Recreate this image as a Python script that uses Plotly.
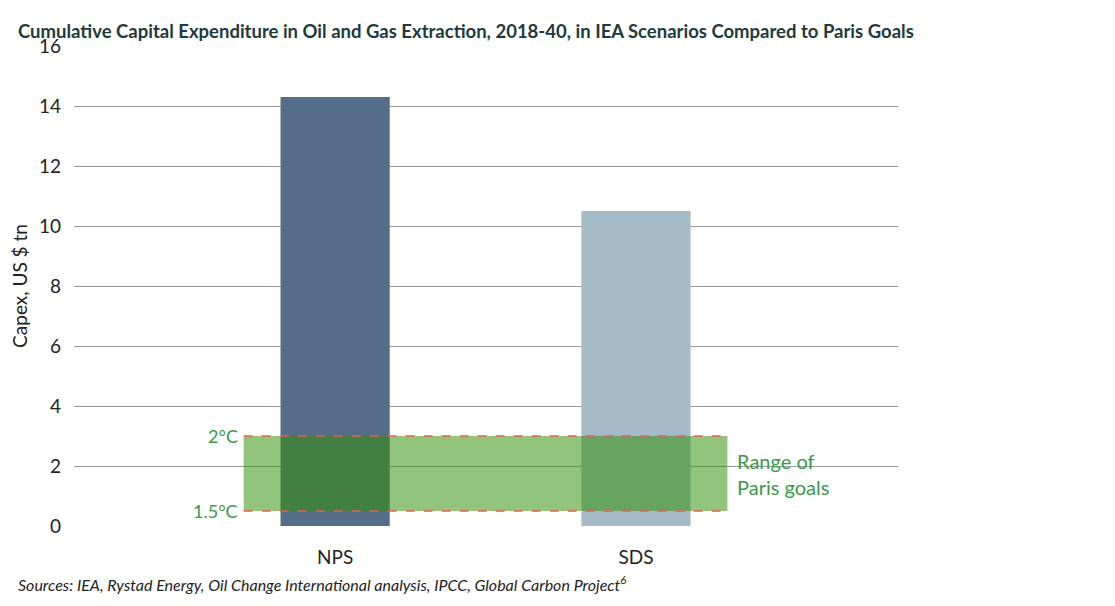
import plotly.graph_objects as go

scenarios = ["NPS", "SDS"]
capex = [14.3, 10.5]
bar_colors = ["#566d87", "#a5bbc8"]
paris_low = 0.5   # 1.5°C
paris_high = 3.0  # 2°C

fig = go.Figure()
fig.add_trace(go.Bar(x=[0, 1], y=capex, marker_color=bar_colors, width=0.363,
                     marker_line_width=0, showlegend=False))

# Paris goals band
fig.add_shape(type="rect", xref="x", yref="y", x0=-0.304, x1=1.304,
              y0=paris_low, y1=paris_high, fillcolor="rgba(50,143,8,0.53)",
              line_width=0, layer="above")
for yv in (paris_low, paris_high):
    fig.add_shape(type="line", xref="x", yref="y", x0=-0.304, x1=1.304, y0=yv, y1=yv,
                  line=dict(color="#e0635a", width=1.5, dash="dash"), layer="above")

green = "#3a9a4a"
fig.add_annotation(x=-0.304, y=paris_high, text="2°C", showarrow=False, xanchor="right",
                   xshift=-4, font=dict(size=18, color=green))
fig.add_annotation(x=-0.304, y=paris_low, text="1.5°C", showarrow=False, xanchor="right",
                   xshift=-4, font=dict(size=18, color=green))
fig.add_annotation(x=1.304, y=(paris_low + paris_high) / 2, text="Range of<br>Paris goals",
                   showarrow=False, xanchor="left", xshift=8, align="left",
                   font=dict(size=20, color=green))

fig.add_annotation(xref="paper", yref="paper", x=-0.07, y=1.0, yshift=28,
                   text="<b>Cumulative Capital Expenditure in Oil and Gas Extraction, 2018-40, in IEA Scenarios Compared to Paris Goals</b>",
                   showarrow=False, xanchor="left", font=dict(size=18.5, color="#1d3b3b"))
fig.add_annotation(xref="paper", yref="paper", x=-0.07, y=0, yshift=-70,
                   text="<i>Sources: IEA, Rystad Energy, Oil Change International analysis, IPCC, Global Carbon Project<sup>6</sup></i>",
                   showarrow=False, xanchor="left", font=dict(size=16, color="#222"))

fig.update_xaxes(range=[-0.868, 1.871], tickvals=[0, 1], ticktext=scenarios,
                 showgrid=False, zeroline=False, showline=False, ticks="outside",
                 ticklen=14, tickcolor="rgba(0,0,0,0)",
                 tickfont=dict(size=19, color="#222"))
fig.update_yaxes(range=[0, 16], dtick=2, showgrid=True, gridcolor="#999", gridwidth=1,
                 zeroline=False, showline=False, ticks="", ticklabelstandoff=12,
                 tickfont=dict(size=19, color="#222"),
                 title=dict(text="Capex, US $ tn", font=dict(size=19, color="#222"), standoff=6))
fig.update_layout(width=1115, height=606, margin=dict(l=60, r=225, t=38, b=88),
                  plot_bgcolor="white", paper_bgcolor="white",
                  font=dict(family="Lato, sans-serif"))

fig.write_html("out.html")
